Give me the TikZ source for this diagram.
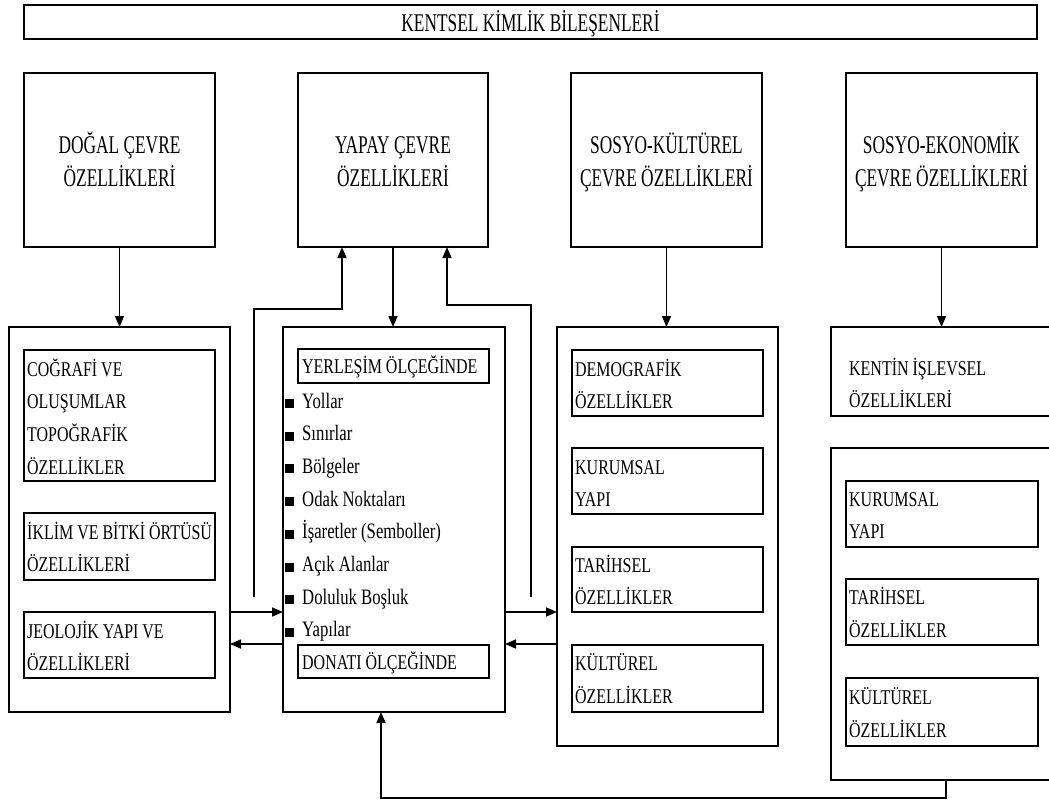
\documentclass[tikz,border=0pt]{standalone}
\usepackage{fontspec}
\setmainfont{Liberation Serif}
\newfontfamily\bigf{Liberation Serif}[FakeStretch=0.68]
\newfontfamily\smf{Liberation Serif}[FakeStretch=0.76]
\usetikzlibrary{arrows.meta}
\tikzset{
 box/.style={draw, line width=1.5pt, inner sep=0pt, outer sep=0pt, anchor=north west},
 arr/.style={line width=1.6pt, -{Triangle[length=11pt,width=9pt]}},
 thinarr/.style={line width=1.2pt, -{Triangle[length=11pt,width=9pt]}},
 big/.style={inner sep=0pt, anchor=base, font=\bigf\fontsize{25.5}{30}\selectfont},
 sm/.style={inner sep=0pt, anchor=base west, font=\smf\fontsize{21}{25}\selectfont},
 lst/.style={inner sep=0pt, anchor=base west, font=\smf\fontsize{22}{25}\selectfont},
}
\newcommand\bx[5]{\node[box, minimum width=#4pt, minimum height=#5pt] (#1) at (#2,#3) {};}
\begin{document}
\begin{tikzpicture}[x=1pt,y=-1pt]
\useasboundingbox (0,0) rectangle (1049,801);
\clip (0,0) rectangle (1049,801);
\fill[white] (0,0) rectangle (1049,801);

% title
\bx{title}{24}{5}{1013}{34}
\node[big] (tt) at (530.5,31) {KENTSEL KİMLİK BİLEŞENLERİ};

% top boxes
\bx{top1}{24}{73}{191}{174}
\bx{top2}{298}{73}{190}{174}
\bx{top3}{571}{73}{191}{174}
\bx{top4}{846}{73}{191}{174}
\node[big] (t1a) at (119.5,153) {DOĞAL ÇEVRE};
\node[big] (t1b) at (119.5,186) {ÖZELLİKLERİ};
\node[big] (t2a) at (393,153) {YAPAY ÇEVRE};
\node[big] (t2b) at (393,186) {ÖZELLİKLERİ};
\node[big] (t3a) at (666.5,153) {SOSYO-KÜLTÜREL};
\node[big] (t3b) at (666.5,186) {ÇEVRE ÖZELLİKLERİ};
\node[big] (t4a) at (941.5,153) {SOSYO-EKONOMİK};
\node[big] (t4b) at (941.5,186) {ÇEVRE ÖZELLİKLERİ};

% left column
\bx{L}{9}{327}{221}{385}
\bx{La}{24}{350}{191}{131}
\bx{Lb}{24}{513}{191}{67}
\bx{Lc}{24}{612}{191}{66}
\node[sm] (la1) at (27,376) {COĞRAFİ VE};
\node[sm] (la2) at (27,408.7) {OLUŞUMLAR};
\node[sm] (la3) at (27,441.3) {TOPOĞRAFİK};
\node[sm] (la4) at (27,474) {ÖZELLİKLER};
\node[sm] (lb1) at (27,539) {İKLİM VE BİTKİ ÖRTÜSÜ};
\node[sm] (lb2) at (27,571.5) {ÖZELLİKLERİ};
\node[sm] (lc1) at (27,638) {JEOLOJİK YAPI VE};
\node[sm] (lc2) at (27,670.5) {ÖZELLİKLERİ};

% middle column
\bx{M}{283}{327}{222}{385}
\bx{My}{298}{349}{191}{34}
\bx{Md}{298}{645}{191}{33}
\node[sm] (my) at (302,373) {YERLEŞİM ÖLÇEĞİNDE};
\node[sm] (md) at (302,669) {DONATI ÖLÇEĞİNDE};
\foreach \t [count=\i] in {Yollar,Sınırlar,Bölgeler,Odak Noktaları,İşaretler (Semboller),Açık Alanlar,Doluluk Boşluk,Yapılar}
  \node[lst] (li\i) at (285,{408+(\i-1)*32.7}) {\rule{9pt}{9pt}\hspace{8pt}\t};

% socio-cultural column
\bx{R}{557}{327}{221}{419}
\bx{Ra}{572}{350}{191}{66}
\bx{Rb}{572}{448}{191}{66}
\bx{Rc}{572}{547}{191}{65}
\bx{Rd}{572}{645}{191}{67}
\node[sm] (ra1) at (575,376) {DEMOGRAFİK};
\node[sm] (ra2) at (575,408.5) {ÖZELLİKLER};
\node[sm] (rb1) at (575,474) {KURUMSAL};
\node[sm] (rb2) at (575,506.5) {YAPI};
\node[sm] (rc1) at (575,572) {TARİHSEL};
\node[sm] (rc2) at (575,604.5) {ÖZELLİKLER};
\node[sm] (rd1) at (575,670.5) {KÜLTÜREL};
\node[sm] (rd2) at (575,703) {ÖZELLİKLER};

% socio-economic column
\bx{K}{831}{327}{230}{89}
\node[sm] (k1) at (849,375) {KENTİN İŞLEVSEL};
\node[sm] (k2) at (849,407) {ÖZELLİKLERİ};
\bx{E}{831}{448}{230}{332}
\bx{Ea}{846}{481}{192}{66}
\bx{Eb}{846}{579}{192}{66}
\bx{Ec}{846}{678}{192}{68}
\node[sm] (ea1) at (849,506) {KURUMSAL};
\node[sm] (ea2) at (849,538) {YAPI};
\node[sm] (eb1) at (849,604) {TARİHSEL};
\node[sm] (eb2) at (849,637) {ÖZELLİKLER};
\node[sm] (ec1) at (849,704) {KÜLTÜREL};
\node[sm] (ec2) at (849,737) {ÖZELLİKLER};

% connectors
\coordinate (lu) at (254,597);
\coordinate (ru) at (531,597);
\draw[thinarr] (top1.south) -- (top1.south |- L.north);
\draw[arr] (top2.south) -- (top2.south |- M.north);
\draw[thinarr] (top3.south) -- (top3.south |- R.north);
\draw[thinarr] (top4.south) -- (top4.south |- K.north);
\draw[arr] (lu) |- ([xshift=-51pt,yshift=-62pt]top2.south) -- ([xshift=-51pt]top2.south);
\draw[arr] (ru) |- ([xshift=54pt,yshift=-58pt]top2.south) -- ([xshift=54pt]top2.south);
\draw[arr] ([yshift=-92.5pt]L.east) -- ([yshift=-92.5pt]L.east -| M.west);
\draw[arr] ([yshift=-124.5pt]M.west) -- ([yshift=-124.5pt]M.west -| L.east);
\draw[arr] ([yshift=-92.5pt]M.east) -- ([yshift=-92.5pt]M.east -| R.west);
\draw[arr] ([yshift=-107.5pt]R.west) -- ([yshift=-107.5pt]R.west -| M.east);
\draw[arr] (E.south) -- ++(0,18) -| ([xshift=-13pt]M.south);
\end{tikzpicture}
\end{document}
